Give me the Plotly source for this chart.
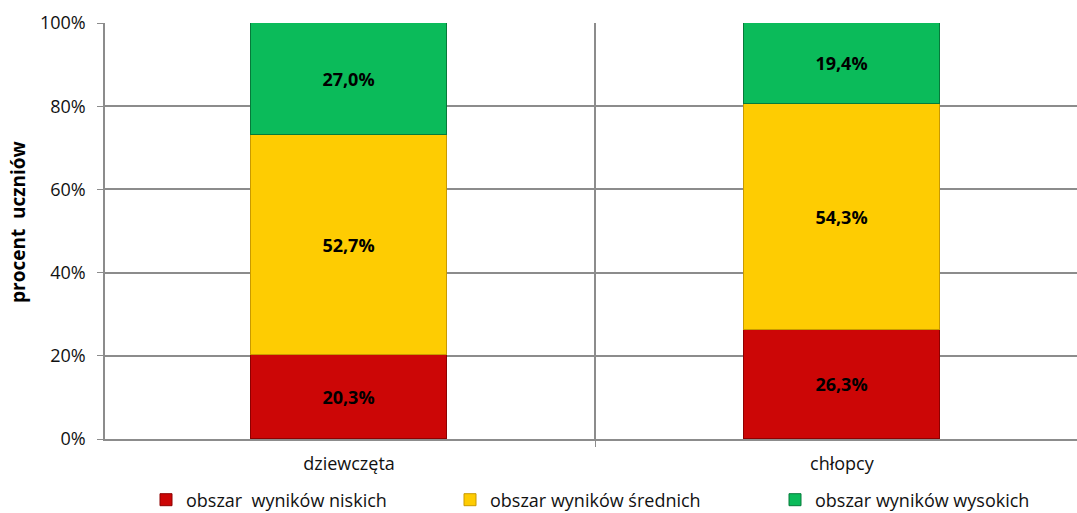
import plotly.graph_objects as go

categories = ["dziewczęta", "chłopcy"]
series_names = ["obszar  wyników niskich", "obszar wyników średnich", "obszar wyników wysokich"]
niskie = [20.3, 26.3]
srednie = [52.7, 54.3]
wysokie = [27.0, 19.4]
y_ticks = [0, 20, 40, 60, 80, 100]
y_ticklabels = ["0%", "20%", "40%", "60%", "80%", "100%"]

colors = ["#CC0606", "#FECC02", "#0BBB5A"]
edges = ["#8E0000", "#C99A00", "#067A3A"]
series_vals = [niskie, srednie, wysokie]

FONT = "Open Sans"
fig = go.Figure()
legend_ids = ["legend", "legend2", "legend3"]
for name, vals, c, e, lg in zip(series_names, series_vals, colors, edges, legend_ids):
    fig.add_trace(go.Bar(
        x=categories, y=vals, name=name,
        marker=dict(color=c, line=dict(color=e, width=1)),
        width=0.398,
        text=[f"{v:.1f}".replace(".", ",") + "%" for v in vals],
        textposition="inside", insidetextanchor="middle",
        textfont=dict(family=FONT, size=18, color="black", weight="bold"),
        legend=lg,
    ))

leg_common = dict(orientation="h", yanchor="middle", xanchor="left",
                  xref="container", yref="container", y=(513 - 500) / 513,
                  font=dict(family=FONT, size=18, color="#111"), bgcolor="rgba(0,0,0,0)",
                  itemwidth=30, tracegroupgap=0)
fig.update_layout(
    barmode="stack",
    width=1077, height=513,
    margin=dict(l=105, r=0, t=23, b=74, autoexpand=False),
    plot_bgcolor="white", paper_bgcolor="white",
    showlegend=True,
    bargap=0,
    legend=dict(x=146 / 1077, **leg_common),
    legend2=dict(x=450 / 1077, **leg_common),
    legend3=dict(x=775 / 1077, **leg_common),
    xaxis=dict(type="category", tickson="boundaries", showgrid=True, gridcolor="#8C8C8C",
               gridwidth=1.5, showline=True, linecolor="#8C8C8C", linewidth=1.5,
               ticks="outside", ticklen=6, tickcolor="#8C8C8C", range=[-0.495, 1.477],
               ticklabelstandoff=8,
               tickfont=dict(family=FONT, size=18, color="#111")),
    yaxis=dict(range=[0, 100], tickvals=y_ticks, ticktext=y_ticklabels, showgrid=True,
               gridcolor="#8C8C8C", gridwidth=1.5, showline=True, linecolor="#8C8C8C",
               linewidth=1.5, ticks="outside", ticklen=6, tickcolor="#8C8C8C",
               ticklabelstandoff=8,
               tickfont=dict(family=FONT, size=18, color="#111"), zeroline=False),
    annotations=[dict(text="procent  uczniów", xref="paper", yref="paper",
                      x=(18 - 105) / 972, y=(439 - 222) / 416, textangle=-90, showarrow=False,
                      xanchor="center", yanchor="middle",
                      font=dict(family=FONT, size=19, color="black", weight="bold"))],
)
fig.write_html("out.html", config={"displayModeBar": False},
               post_script="document.body.style.margin='0';document.body.style.overflow='hidden';")
